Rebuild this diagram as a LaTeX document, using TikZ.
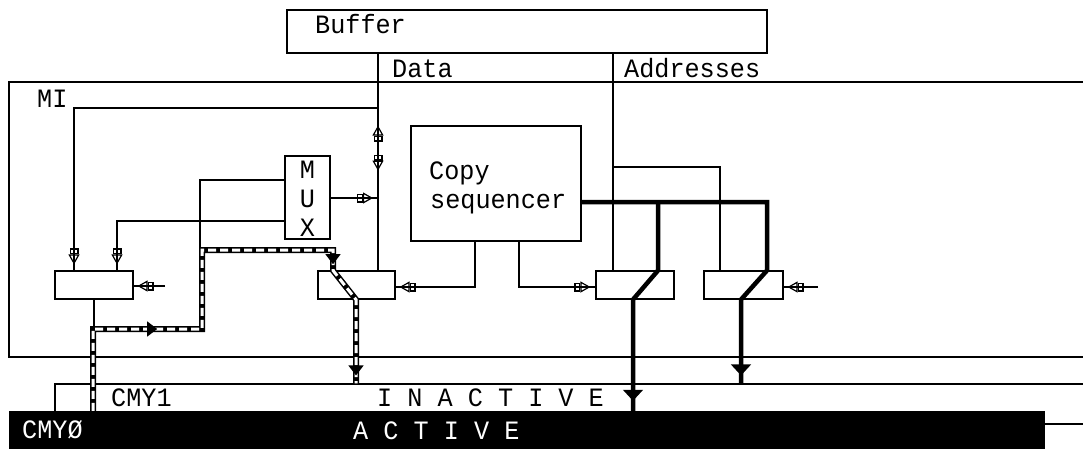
\documentclass[tikz,border=0pt]{standalone}
\usepackage{fontspec}
\newfontfamily\pixfont[FakeStretch=0.95]{Liberation Mono}
\usetikzlibrary{arrows.meta,decorations.markings}
\tikzset{
  oarr/.tip={Rectangle[open,length=6pt,width=9pt,sep=0pt]Triangle[open,length=10pt,width=11pt]},
  farr/.tip={Triangle[length=11pt,width=20pt]},
  carr/.tip={Triangle[length=10pt,width=15pt]},
  markat/.style 2 args={postaction={decorate,decoration={markings,mark=at position #1 with {\arrow[line width=1.2pt]{#2}}}}},
  markrev/.style 2 args={postaction={decorate,decoration={markings,mark=at position #1 with {\arrowreversed[line width=1.2pt]{#2}}}}},
  wire/.style={draw=black,line width=1.1pt},
  bus/.style={draw=black,line width=4.5pt},
  copypath/.style={draw=black,line width=6pt,postaction={draw=white,line width=3pt,dash pattern=on 8pt off 4pt}},
  box/.style 2 args={draw=black,line width=1.1pt,fill=white,inner sep=0pt,minimum width=#1,minimum height=#2},
  frame/.style 2 args={draw=black,line width=1.1pt,inner sep=0pt,minimum width=#1,minimum height=#2},
  lbl/.style={font=\pixfont\fontsize{26.5pt}{27pt}\selectfont,inner sep=0pt,anchor=base west},
}
\begin{document}
\begin{tikzpicture}[x=1pt,y=-1pt]
\useasboundingbox (0,0) rectangle (1083,448);
\clip (0,0) rectangle (1083,448);
\fill[white] (0,0) rectangle (1083,448);

% frames and boxes
\node[frame={1091pt}{275pt}] (mi) at (554.5,219.5) {};
\node[frame={1045pt}{40pt}] (cmy1) at (577.5,404) {};
\node[box={480pt}{43pt}] (buffer) at (527,31.5) {};
\node[box={170pt}{115pt}] (seq) at (496,183.5) {};
\node[box={45pt}{83pt}] (mux) at (307.5,197.5) {};
\node[box={78pt}{28pt}] (lbox) at (94,285) {};
\node[box={77pt}{28pt}] (mbox) at (356.5,285) {};
\node[box={78pt}{28pt}] (bthree) at (635,285) {};
\node[box={79pt}{28pt}] (bfour) at (743.5,285) {};
\node[fill=black,inner sep=0pt,minimum width=1036pt,minimum height=49pt] (cmy0) at (527,435.5) {};

% coordinates for free ends / junctions
\coordinate (fb) at (378,108);
\coordinate (lin) at (165,286);
\coordinate (mo) at (378,198);
\coordinate (cj) at (200,250);
\coordinate (rin) at (818,287);
\coordinate (rend) at (1083,424);
\coordinate (aj) at (613,167);
\coordinate (bj) at (658,202);

% thin connectors
\draw[wire, markrev={72pt}{oarr}, markat={117pt}{oarr}] (buffer.south -| 378,0) -- (mbox.north -| 378,0);
\draw[wire, markat={-6pt}{oarr}] (fb) -- (74,108) -- (lbox.north -| 74,0);
\draw[wire, markat={-6pt}{oarr}] (mux.west |- 0,221) -- (117,221) -- (lbox.north -| 117,0);
\draw[wire, markat={-4pt}{oarr}] (lin) -- (lbox.east |- lin);
\draw[wire, markat={-5pt}{oarr}] (mux.east |- mo) -- (mo);
\draw[wire] (mux.west |- 0,180) -- (200,180) -- (cj);
\draw[wire, markat={-4pt}{oarr}] (seq.south -| 475,0) -- (475,287) -- (mbox.east |- 0,287);
\draw[wire, markat={-5pt}{oarr}] (seq.south -| 519,0) -- (519,287) -- (bthree.west |- 0,287);
\draw[wire] (buffer.south -| 613,0) -- (bthree.north -| 613,0);
\draw[wire] (aj) -- (720,167) -- (bfour.north -| 720,0);
\draw[wire, markat={-4pt}{oarr}] (rin) -- (bfour.east |- rin);
\draw[wire] (lbox.south) -- (94,329);
\draw[wire] (cmy0.east |- rend) -- (rend);

% thick address buses
\draw[bus, markat={-8pt}{farr}] (seq.east |- bj) -- (767,202) -- (bfour.north -| 767,0) -- (bfour.south -| 741,0) -- (cmy1.north -| 741,0);
\draw[bus, markat={-10pt}{farr}] (bj) -- (bthree.north -| 658,0) -- (bthree.south -| 633,0) -- (cmy0.north -| 633,0);

% copy data path
\draw[copypath, markat={146pt}{carr}, markat={415pt}{carr}, markat={-8pt}{carr}]
  (cmy0.north -| 93,0) -- (93,329) -- (202,329) -- (202,250) -- (333,250)
  -- (mbox.north -| 333,0) -- (mbox.south -| 356,0) -- (cmy1.north -| 356,0);

% labels
\node[lbl] (tbuf) at (315,33) {Buffer};
\node[lbl] (tdata) at (392,77) {Data};
\node[lbl] (taddr) at (624,77) {Addresses};
\node[lbl] (tmi) at (37,107) {MI};
\node[lbl] (tcopy) at (429,179) {Copy};
\node[lbl] (tseq) at (430,208) {sequencer};
\node[lbl,anchor=base] (tm) at (307.5,178) {M};
\node[lbl,anchor=base] (tu) at (307.5,207) {U};
\node[lbl,anchor=base] (tx) at (307.5,236) {X};
\node[lbl] (tcmy1) at (111,406) {CMY1};
\node[lbl] (tinact) at (377,406) {I N A C T I V E};
\node[lbl,text=white] (tcmy0) at (22,438) {CMYØ};
\node[lbl,text=white] (tact) at (353,439) {A C T I V E};
\end{tikzpicture}
\end{document}
